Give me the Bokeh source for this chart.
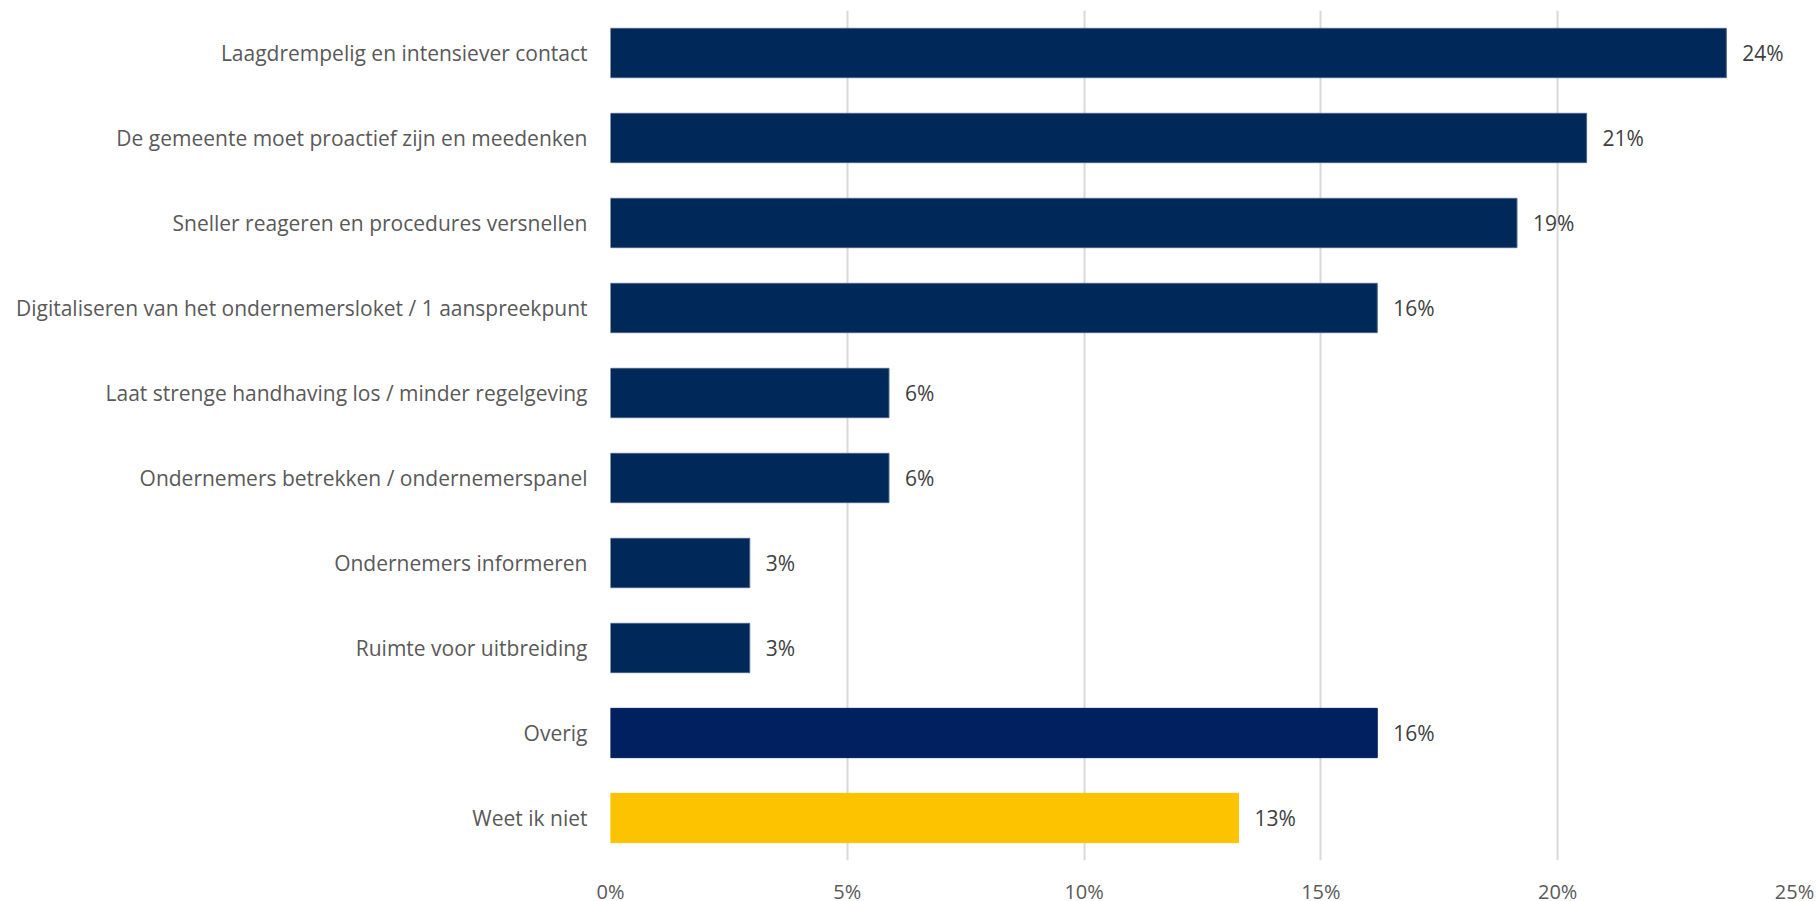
from bokeh.plotting import figure
from bokeh.models import ColumnDataSource, NumeralTickFormatter, FixedTicker
from bokeh.core.properties import value
from bokeh.embed import file_html
from bokeh.resources import INLINE

categories = [
    "Laagdrempelig en intensiever contact",
    "De gemeente moet proactief zijn en meedenken",
    "Sneller reageren en procedures versnellen",
    "Digitaliseren van het ondernemersloket / 1 aanspreekpunt",
    "Laat strenge handhaving los / minder regelgeving",
    "Ondernemers betrekken / ondernemerspanel",
    "Ondernemers informeren",
    "Ruimte voor uitbreiding",
    "Overig",
    "Weet ik niet",
]
values = [0.2356, 0.2061, 0.1914, 0.1619, 0.0588, 0.0588, 0.0294, 0.0294, 0.1619, 0.1326]
labels = ["24%", "21%", "19%", "16%", "6%", "6%", "3%", "3%", "16%", "13%"]
colors = ["#00295A"] * 8 + ["#002060", "#FDC300"]
outlines = ["#4A6488"] * 8 + ["#002060", "#FDC300"]
x_ticks = [0, 0.05, 0.10, 0.15, 0.20, 0.25]

src = ColumnDataSource(dict(cat=categories, val=values, lab=labels, col=colors, out=outlines))

p = figure(
    y_range=list(reversed(categories)),
    x_range=(0, 0.25),
    frame_width=1184, frame_height=850,
    output_backend="svg", toolbar_location=None,
    min_border_left=610, min_border_right=25,
    min_border_top=10, min_border_bottom=41,
)
p.outline_line_color = None
p.background_fill_color = "white"
p.border_fill_color = "white"

p.hbar(y="cat", right="val", left=0, height=0.58, fill_color="col",
       line_color="out", line_width=1, source=src)
p.text(x="val", y="cat", text="lab", source=src, x_offset=16,
       text_baseline="middle", text_align="left",
       text_font=value("Open Sans"), text_font_size="21px", text_color="#404040")

p.xaxis.ticker = FixedTicker(ticks=x_ticks)
p.xaxis.formatter = NumeralTickFormatter(format="0%")
p.xaxis.axis_line_color = None
p.xaxis.major_tick_line_color = None
p.xaxis.minor_tick_line_color = None
p.xaxis.major_label_standoff = 11
p.xaxis.major_label_text_font = "Open Sans"
p.xaxis.major_label_text_font_size = "20px"
p.xaxis.major_label_text_color = "#595959"

p.yaxis.axis_line_color = None
p.yaxis.major_tick_line_color = None
p.yaxis.minor_tick_line_color = None
p.yaxis.major_label_standoff = 17
p.yaxis.major_label_text_font = "Open Sans"
p.yaxis.major_label_text_font_size = "21px"
p.yaxis.major_label_text_color = "#595959"

p.xgrid.grid_line_color = "#D9D9D9"
p.xgrid.grid_line_width = 2
p.ygrid.grid_line_color = None

open("out.html", "w").write(file_html(p, INLINE))
